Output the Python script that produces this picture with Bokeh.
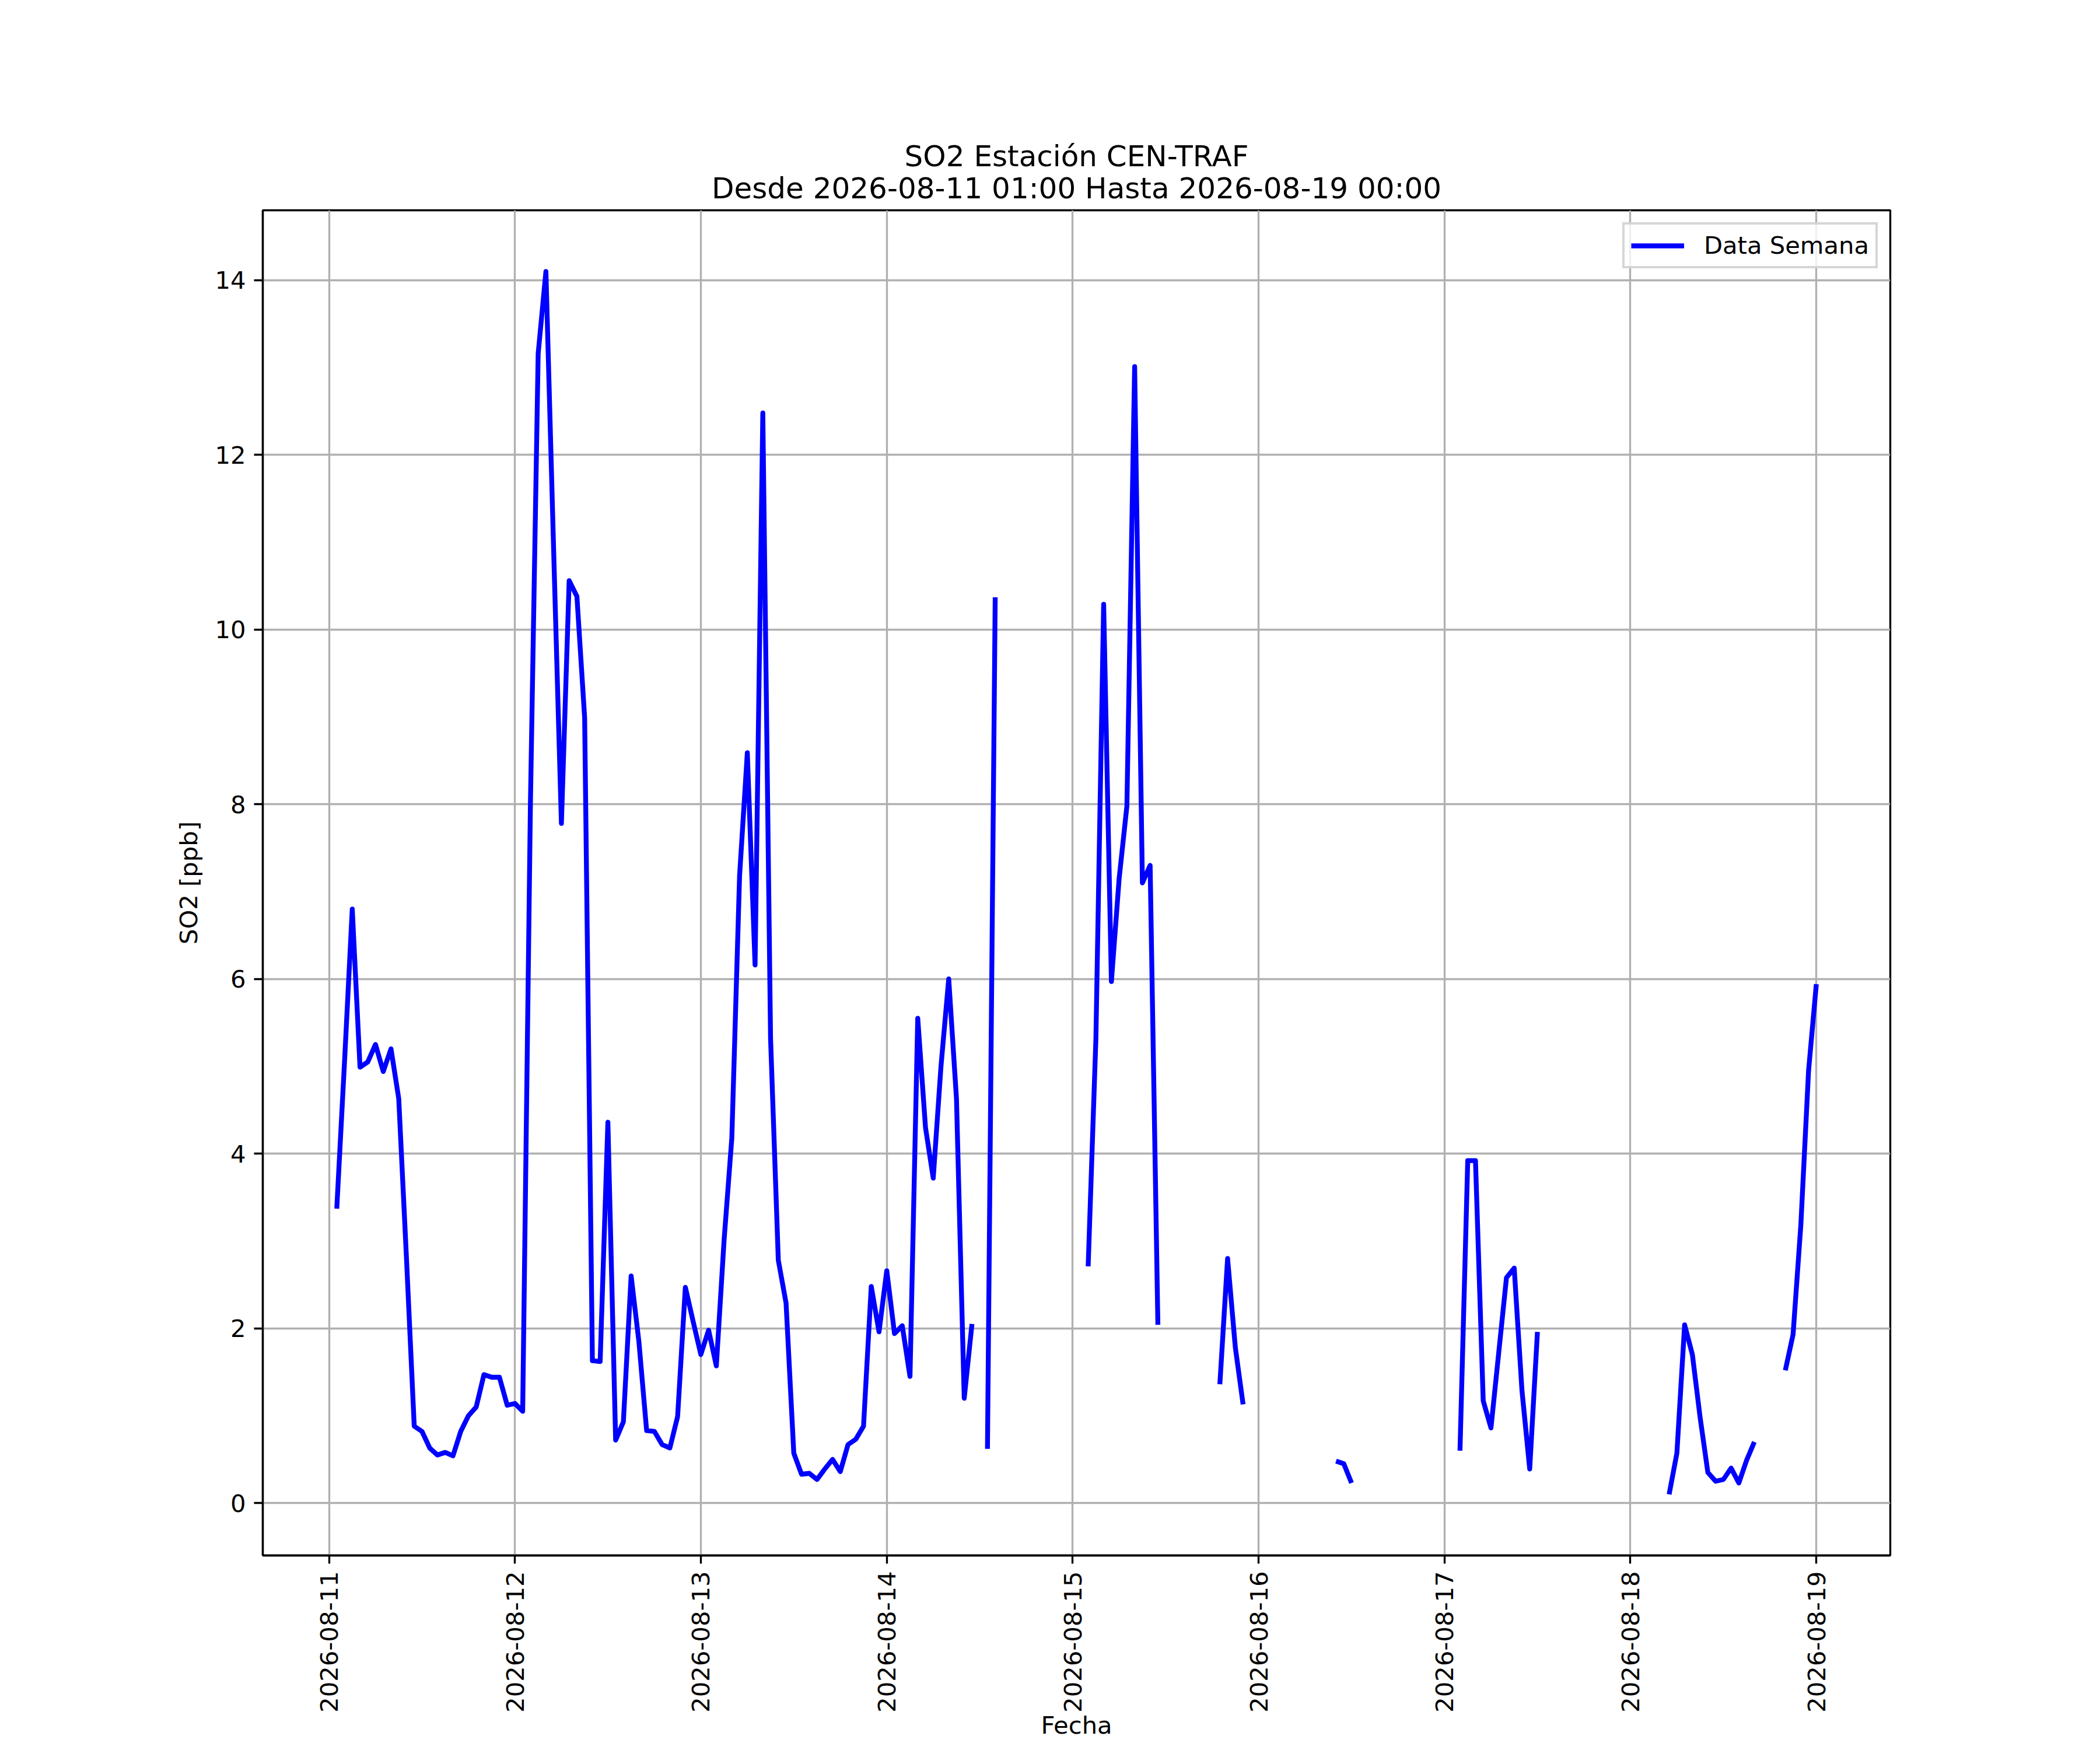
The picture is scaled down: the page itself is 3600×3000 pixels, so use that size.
import math
import numpy as np
import pandas as pd
from bokeh.plotting import figure
from bokeh.models import (Range1d, FixedTicker, DatetimeTickFormatter, ColumnDataSource)
from bokeh.embed import file_html
from bokeh.resources import INLINE

nan = float("nan")

# Hourly SO2 values [ppb], 2026-08-11 01:00 .. 2026-08-19 00:00 (NaN = no data)
so2_0811 = [3.37, 5.05, 6.80, 4.99, 5.05, 5.25, 4.94, 5.20, 4.63, 2.80, 0.88, 0.82,
            0.63, 0.55, 0.58, 0.54, 0.82, 1.00, 1.10, 1.47, 1.44, 1.44, 1.12]          # hours 01..23
so2_0812 = [1.14, 1.05, 8.01, 13.16, 14.10, 10.90, 7.78, 10.56, 10.38, 8.99, 1.63, 1.62,
            4.36, 0.72, 0.93, 2.60, 1.85, 0.83, 0.82, 0.67, 0.63, 0.99, 2.47, 2.08]
so2_0813 = [1.70, 1.98, 1.57, 3.01, 4.18, 7.18, 8.59, 6.16, 12.48, 5.32, 2.78, 2.29,
            0.57, 0.33, 0.34, 0.27, 0.39, 0.50, 0.36, 0.67, 0.73, 0.88, 2.48, 1.96]
so2_0814 = [2.66, 1.94, 2.03, 1.45, 5.55, 4.30, 3.72, 5.00, 6.00, 4.63, 1.20, 2.05,
            nan, 0.62, 10.37, nan, nan, nan, nan, nan, nan, nan, nan, nan]
so2_0815 = [nan, nan, 2.71, 5.32, 10.29, 5.97, 7.15, 7.98, 13.01, 7.10, 7.30, 2.04,
            nan, nan, nan, nan, nan, nan, nan, 1.36, 2.80, 1.78, 1.13, nan]
so2_0816 = [nan, nan, nan, nan, nan, nan, nan, nan, nan, nan, 0.48, 0.45,
            0.23, nan, nan, nan, nan, nan, nan, nan, nan, nan, nan, nan]
so2_0817 = [nan, nan, 0.60, 3.92, 3.92, 1.17, 0.86, 1.72, 2.58, 2.69, 1.29, 0.39,
            1.96, nan, nan, nan, nan, nan, nan, nan, nan, nan, nan, nan]
so2_0818 = [nan, nan, nan, nan, nan, 0.10, 0.57, 2.04, 1.70, 0.98, 0.35, 0.25,
            0.27, 0.40, 0.23, 0.49, 0.70, nan, nan, nan, 1.52, 1.93, 3.18, 4.95]
so2_0819 = [5.94]                                                                       # hour 00

start_time = "2026-08-11 01:00"
end_time = "2026-08-19 00:00"
x_tick_days = ["2026-08-11", "2026-08-12", "2026-08-13", "2026-08-14", "2026-08-15",
               "2026-08-16", "2026-08-17", "2026-08-18", "2026-08-19"]
y_ticks = [0, 2, 4, 6, 8, 10, 12, 14]

title_line1 = "SO2 Estación CEN-TRAF"
title_line2 = "Desde 2026-08-11 01:00 Hasta 2026-08-19 00:00"
series_label = "Data Semana"
x_label = "Fecha"
y_label = "SO2 [ppb]"

values = (so2_0811 + so2_0812 + so2_0813 + so2_0814 + so2_0815 + so2_0816 +
          so2_0817 + so2_0818 + so2_0819)
times = pd.date_range(start_time, end_time, freq="h")
vals = np.array(values, dtype=float)
source = ColumnDataSource(dict(t=times, v=vals))

# matplotlib-like 5% margins
t0, t1 = times[0], times[-1]
pad = (t1 - t0) * 0.05
vmin, vmax = np.nanmin(vals), np.nanmax(vals)
vpad = (vmax - vmin) * 0.05

FONT = "DejaVu Sans"
TICK_PX = "41.7px"
W, H = 3584, 2984

p = figure(width=W, height=H, x_axis_type="datetime", output_backend="svg",
           toolbar_location=None,
           x_range=Range1d(t0 - pad, t1 + pad),
           y_range=Range1d(vmin - vpad, vmax + vpad),
           min_border_left=450, min_border_right=344,
           min_border_top=360, min_border_bottom=314,
           title=title_line1 + "\n" + title_line2)
p.background_fill_color = "white"
p.border_fill_color = "white"
p.outline_line_color = "black"
p.outline_line_width = 3.33

p.title.text_font = FONT
p.title.text_font_size = "50px"
p.title.text_font_style = "normal"
p.title.text_color = "black"
p.title.align = "center"
p.title.text_align = "center"
p.title.text_line_height = 0.945
p.title.standoff = 17

p.line(x="t", y="v", source=source, line_color="#0000ff", line_width=8.33,
       line_join="round", legend_label=series_label)

# axes
day_ms = [pd.Timestamp(d).value // 10**6 for d in x_tick_days]
p.xaxis.ticker = FixedTicker(ticks=day_ms)
fmt = "%Y-%m-%d"
p.xaxis.formatter = DatetimeTickFormatter(days=fmt, hours=fmt, hourmin=fmt, months=fmt,
                                          minutes=fmt, minsec=fmt, seconds=fmt, years=fmt)
p.xaxis.major_label_orientation = math.pi / 2
p.xaxis.axis_label = x_label
p.yaxis.ticker = FixedTicker(ticks=y_ticks)
p.yaxis.axis_label = y_label

for ax in (p.xaxis, p.yaxis):
    ax.axis_line_color = "black"
    ax.axis_line_width = 3.33
    ax.major_tick_line_color = "black"
    ax.major_tick_line_width = 3.33
    ax.major_tick_out = 15
    ax.major_tick_in = 0
    ax.minor_tick_line_color = None
    ax.major_label_standoff = 14
    ax.major_label_text_font = FONT
    ax.major_label_text_font_size = TICK_PX
    ax.major_label_text_color = "black"
    ax.axis_label_text_font = FONT
    ax.axis_label_text_font_size = TICK_PX
    ax.axis_label_text_font_style = "normal"
    ax.axis_label_text_color = "black"

p.xaxis.major_tick_out = 14
p.xaxis.major_label_standoff = 13
p.xaxis.axis_label_standoff = -6
p.yaxis.axis_label_standoff = 17

# grid
p.xgrid.ticker = FixedTicker(ticks=day_ms)
p.ygrid.ticker = FixedTicker(ticks=y_ticks)
for g in (p.xgrid, p.ygrid):
    g.grid_line_color = "#b0b0b0"
    g.grid_line_width = 3.33

# legend
lg = p.legend[0]
lg.location = "top_right"
lg.margin = 21
lg.padding = 11
lg.label_standoff = 34
lg.glyph_width = 91
lg.glyph_height = 40
lg.label_height = 40
lg.label_text_font = FONT
lg.label_text_font_size = TICK_PX
lg.label_text_color = "black"
lg.border_line_color = "#cccccc"
lg.border_line_width = 4.17
lg.border_line_alpha = 0.8
lg.background_fill_color = "white"
lg.background_fill_alpha = 0.8

open("out.html", "w").write(file_html(p, INLINE))
